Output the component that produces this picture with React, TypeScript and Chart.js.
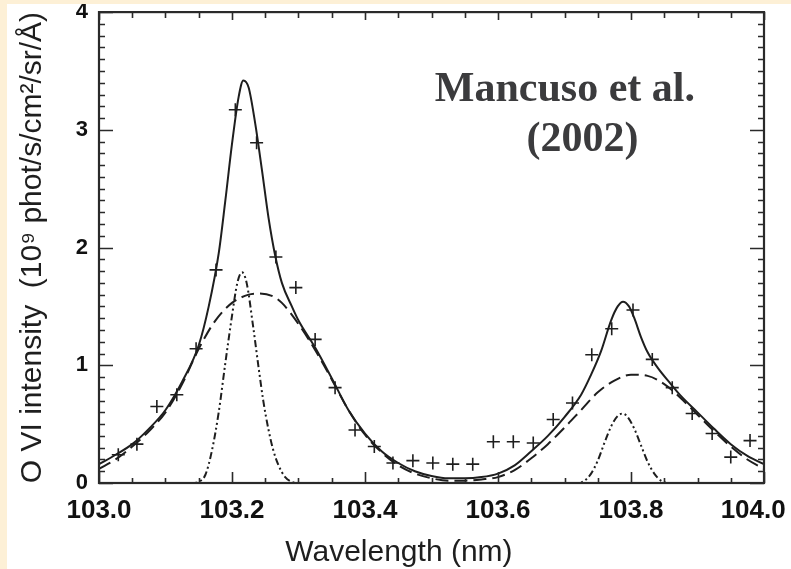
import React, { useEffect, useRef } from 'react';
import { Chart, registerables } from 'chart.js';

Chart.register(...registerables);

// ---- axis ticks ----
const X_TICKS = [103.0, 103.2, 103.4, 103.6, 103.8, 104.0];
const Y_TICKS = [0, 1, 2, 3, 4];
const X_MINOR_STEP = 0.05;
const Y_MINOR_STEP = 0.1;

// ---- observed O VI data (crosses) ----
const OBS_WL = [
  103.029, 103.057, 103.087, 103.117, 103.146, 103.176, 103.205, 103.237, 103.266, 103.296,
  103.325, 103.355, 103.385, 103.414, 103.442, 103.472, 103.502, 103.532, 103.562, 103.593,
  103.623, 103.653, 103.683, 103.712, 103.741, 103.771, 103.803, 103.832, 103.862, 103.892,
  103.922, 103.950, 103.979,
];
const OBS_I = [
  0.24, 0.33, 0.65, 0.75, 1.14, 1.81, 3.17, 2.89, 1.92, 1.66,
  1.22, 0.81, 0.45, 0.31, 0.17, 0.19, 0.17, 0.16, 0.16, 0.35,
  0.35, 0.34, 0.54, 0.68, 1.09, 1.31, 1.47, 1.05, 0.81, 0.59,
  0.42, 0.22, 0.36,
];

// ---- total fit (solid) ----
const FIT_WL = [
  103.0, 103.025, 103.05, 103.075, 103.1, 103.125, 103.15, 103.165, 103.18, 103.19,
  103.2, 103.21, 103.217, 103.225, 103.235, 103.245, 103.255, 103.265, 103.275, 103.29,
  103.3, 103.325, 103.35, 103.375, 103.4, 103.425, 103.45, 103.475, 103.5, 103.525,
  103.55, 103.575, 103.6, 103.625, 103.65, 103.675, 103.7, 103.725, 103.74, 103.755,
  103.77, 103.78, 103.788, 103.797, 103.805, 103.815, 103.825, 103.84, 103.86, 103.875,
  103.9, 103.925, 103.95, 103.975, 104.0,
];
const FIT_I = [
  0.16, 0.24, 0.33, 0.46, 0.62, 0.86, 1.17, 1.50, 1.95, 2.40,
  2.88, 3.28, 3.42, 3.36, 3.05, 2.66, 2.25, 1.93, 1.70, 1.50,
  1.38, 1.15, 0.89, 0.62, 0.42, 0.27, 0.17, 0.10, 0.06, 0.04,
  0.04, 0.05, 0.08, 0.15, 0.27, 0.40, 0.56, 0.75, 0.92, 1.12,
  1.38, 1.50, 1.54, 1.50, 1.40, 1.24, 1.11, 0.98, 0.84, 0.74,
  0.60, 0.46, 0.33, 0.23, 0.16,
];

// ---- broad component (dashed) ----
const BROAD_WL = [
  103.0, 103.025, 103.05, 103.075, 103.1, 103.125, 103.15, 103.175, 103.2, 103.225,
  103.24, 103.26, 103.275, 103.3, 103.325, 103.35, 103.375, 103.4, 103.425, 103.45,
  103.475, 103.5, 103.525, 103.55, 103.575, 103.6, 103.625, 103.65, 103.675, 103.7,
  103.725, 103.75, 103.775, 103.8, 103.825, 103.85, 103.875, 103.9, 103.925, 103.95,
  103.975, 104.0,
];
const BROAD_I = [
  0.12, 0.20, 0.31, 0.44, 0.60, 0.84, 1.14, 1.38, 1.53, 1.60,
  1.61, 1.59, 1.53, 1.35, 1.13, 0.88, 0.62, 0.41, 0.26, 0.15,
  0.08, 0.04, 0.02, 0.02, 0.03, 0.05, 0.11, 0.21, 0.33, 0.47,
  0.62, 0.77, 0.87, 0.92, 0.91, 0.84, 0.72, 0.58, 0.44, 0.31,
  0.20, 0.12,
];

// ---- narrow component 1 (dash-dot-dot) ----
const NARROW1_WL = [
  103.13, 103.14, 103.15, 103.16, 103.17, 103.18, 103.19, 103.2, 103.208, 103.215,
  103.222, 103.232, 103.24, 103.247, 103.255, 103.262, 103.27, 103.28, 103.29, 103.3, 103.31,
];
const NARROW1_I = [
  0, 0, 0.01, 0.07, 0.28, 0.60, 1.02, 1.42, 1.70, 1.79,
  1.70, 1.32, 0.98, 0.70, 0.45, 0.28, 0.15, 0.05, 0.01, 0, 0,
];

// ---- narrow component 2 (dash-dot-dot) ----
const NARROW2_WL = [
  103.71, 103.72, 103.73, 103.74, 103.75, 103.76, 103.77, 103.78, 103.788, 103.795,
  103.805, 103.815, 103.825, 103.835, 103.845, 103.855, 103.865,
];
const NARROW2_I = [
  0, 0, 0.02, 0.08, 0.19, 0.34, 0.48, 0.57, 0.59, 0.56,
  0.46, 0.32, 0.18, 0.08, 0.02, 0, 0,
];

// ---- texts ----
const Y_TITLE = 'O VI intensity  (10\u2079 phot/s/cm\u00B2/sr/\u00C5)';
const X_TITLE = 'Wavelength (nm)';
const NOTE_LINES = ['Mancuso et al.', '(2002)'];
const NOTE_ANCHORS = [
  { x: 103.505, y: 3.246 },
  { x: 103.643, y: 2.82 },
];

const SANS = '"Liberation Sans", Arial, Helvetica, sans-serif';
const SERIF = '"Liberation Serif", "Times New Roman", serif';
const INK = '#1e1e1e';

const pts = (xs: number[], ys: number[]) => xs.map((x, i) => ({ x, y: ys[i] }));

const framePlugin = {
  id: 'frameAndText',
  afterDatasetsDraw(chart: any) {
    const { ctx, chartArea } = chart;
    const { left, right, top, bottom } = chartArea;
    const xs = chart.scales.x;
    const ys = chart.scales.y;
    ctx.save();
    ctx.strokeStyle = '#2a2a2a';
    ctx.lineWidth = 1.6;
    ctx.beginPath();
    const nx = Math.round((xs.max - xs.min) / X_MINOR_STEP);
    for (let i = 0; i <= nx; i++) {
      const v = xs.min + i * X_MINOR_STEP;
      const px = Math.round(xs.getPixelForValue(v)) + 0.5;
      const major = X_TICKS.some((t) => Math.abs(t - v) < 1e-6);
      const lb = major ? 11 : 5;
      const lt = major ? 8 : 6;
      ctx.moveTo(px, bottom);
      ctx.lineTo(px, bottom - lb);
      ctx.moveTo(px, top);
      ctx.lineTo(px, top + lt);
    }
    const ny = Math.round((ys.max - ys.min) / Y_MINOR_STEP);
    for (let i = 0; i <= ny; i++) {
      const v = ys.min + i * Y_MINOR_STEP;
      const py = Math.round(ys.getPixelForValue(v)) + 0.5;
      const major = Y_TICKS.some((t) => Math.abs(t - v) < 1e-6);
      const l = major ? 14 : 6;
      ctx.moveTo(left, py);
      ctx.lineTo(left + l, py);
      ctx.moveTo(right, py);
      ctx.lineTo(right - l, py);
    }
    ctx.stroke();
    ctx.lineWidth = 2.2;
    ctx.strokeRect(left, top, right - left, bottom - top);

    // annotation
    ctx.fillStyle = '#3b3b3d';
    ctx.font = 'bold 42px ' + SERIF;
    ctx.textAlign = 'left';
    ctx.textBaseline = 'alphabetic';
    NOTE_LINES.forEach((t, i) => {
      ctx.fillText(t, xs.getPixelForValue(NOTE_ANCHORS[i].x), ys.getPixelForValue(NOTE_ANCHORS[i].y));
    });

    // x-axis title
    ctx.fillStyle = INK;
    ctx.font = '30px ' + SANS;
    ctx.textAlign = 'center';
    ctx.fillText(X_TITLE, left + 0.451 * (right - left), bottom + 78);
    ctx.restore();
  },
};

export default function App() {
  const ref = useRef<HTMLCanvasElement | null>(null);

  useEffect(() => {
    if (!ref.current) return;
    const chart = new Chart(ref.current, {
      type: 'scatter',
      data: {
        datasets: [
          {
            label: 'Observed',
            data: pts(OBS_WL, OBS_I),
            showLine: false,
            pointStyle: 'cross',
            pointRadius: 6.5,
            pointBorderWidth: 1.6,
            borderColor: INK,
            backgroundColor: INK,
          },
          {
            label: 'Total fit',
            data: pts(FIT_WL, FIT_I),
            showLine: true,
            pointRadius: 0,
            borderColor: INK,
            borderWidth: 2,
            cubicInterpolationMode: 'monotone',
          },
          {
            label: 'Broad',
            data: pts(BROAD_WL, BROAD_I),
            showLine: true,
            pointRadius: 0,
            borderColor: INK,
            borderWidth: 2,
            borderDash: [13, 6],
            cubicInterpolationMode: 'monotone',
          },
          {
            label: 'Narrow 1',
            data: pts(NARROW1_WL, NARROW1_I),
            showLine: true,
            pointRadius: 0,
            borderColor: INK,
            borderWidth: 2,
            borderDash: [7, 3, 2, 3, 2, 3],
            cubicInterpolationMode: 'monotone',
          },
          {
            label: 'Narrow 2',
            data: pts(NARROW2_WL, NARROW2_I),
            showLine: true,
            pointRadius: 0,
            borderColor: INK,
            borderWidth: 2,
            borderDash: [7, 3, 2, 3, 2, 3],
            cubicInterpolationMode: 'monotone',
          },
        ],
      },
      options: {
        responsive: false,
        maintainAspectRatio: false,
        animation: false,
        layout: { padding: { left: 0, top: 7, right: 27, bottom: 0 } },
        plugins: { legend: { display: false }, tooltip: { enabled: false } },
        scales: {
          x: {
            type: 'linear',
            min: 103,
            max: 104,
            afterBuildTicks: (s: any) => {
              s.ticks = X_TICKS.map((v) => ({ value: v }));
            },
            afterFit: (s: any) => {
              s.height = 86;
              s.paddingLeft = 0;
              s.paddingRight = 0;
            },
            ticks: {
              autoSkip: false,
              maxRotation: 0,
              padding: 12,
              color: '#111',
              font: { family: SANS, size: 26, weight: 'bold' },
              callback: (v: any, i: number, arr: any[]) =>
                Number(v).toFixed(1) + (i === arr.length - 1 ? '\u0020\u0020\u0020' : ''),
            },
            grid: { display: false, drawTicks: false },
            border: { display: false },
          },
          y: {
            type: 'linear',
            min: 0,
            max: 4,
            afterBuildTicks: (s: any) => {
              s.ticks = Y_TICKS.map((v) => ({ value: v }));
            },
            afterFit: (s: any) => {
              s.width = 92;
              s.paddingTop = 0;
              s.paddingBottom = 0;
            },
            ticks: {
              padding: 11,
              color: '#111',
              font: { family: SANS, size: 22, weight: 'bold' },
              callback: (v: any) => String(v),
            },
            grid: { display: false, drawTicks: false },
            border: { display: false },
            title: {
              display: true,
              text: Y_TITLE,
              color: INK,
              font: { family: SANS, size: 30 },
              padding: { top: 8, bottom: 0 },
            },
          },
        },
      },
      plugins: [framePlugin],
    } as any);
    return () => chart.destroy();
  }, []);

  return (
    <div style={{ position: 'fixed', left: 0, top: 0, width: 791, height: 569, background: '#fdf0d6' }}>
      <div style={{ position: 'absolute', left: 7, top: 4, width: 784, height: 565, background: '#ffffff' }}>
        <canvas ref={ref} width={784} height={565} style={{ display: 'block', width: 784, height: 565 }} />
      </div>
    </div>
  );
}
